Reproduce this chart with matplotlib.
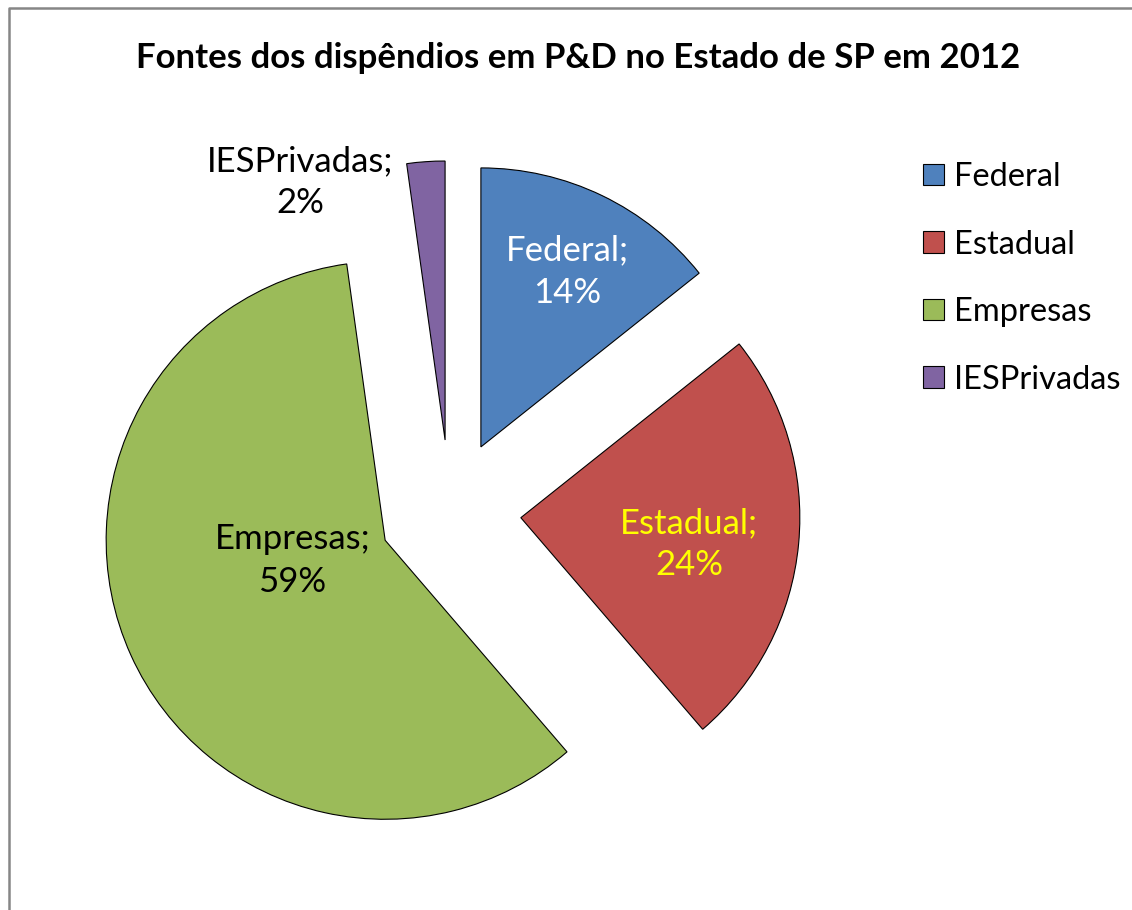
#Pizza explodida: fontes dos dispendios em P&D no Estado de SP em 2012
import numpy as np
import matplotlib.pyplot as plt
from matplotlib.lines import Line2D

plt.rcParams['font.family'] = ['Lato', 'DejaVu Sans']

#dados
fontes = ["Federal", "Estadual", "Empresas", "IESPrivadas"]
percentuais = [14.3, 24.4, 59.1, 2.2]
cores = ["#4F81BD", "#C0504D", "#9BBB59", "#8064A2"]
cores_rotulo = ["white", "#FFFF00", "black", "black"]

#posicao do rotulo em relacao ao vertice de cada fatia (fracao do raio, angulo de bussola)
pos_rotulo = [(0.70, 26.3), (0.61, 98.9), (0.34, 257.7), (1.06, 330.7)]

W, H = 1132, 910
R = 279.0          #raio em pixels
CX, CY = 450, 511  #centro da pizza em pixels (y a partir do topo)

fig = plt.figure(figsize=(W / 100, H / 100), dpi=100)
ax = fig.add_axes([0, 0, 1, 1])

fatias, _ = ax.pie(percentuais, colors=cores, startangle=90, counterclock=False,
                   explode=[0.255] * 4,
                   wedgeprops=dict(edgecolor="black", linewidth=0.8))

#escala: 1 unidade de dado = R pixels
ax.set_xlim(-CX / R, (W - CX) / R)
ax.set_ylim((CY - H) / R, CY / R)
ax.set_aspect("auto")
ax.axis("off")

for fatia, nome, v, cor, (r, a) in zip(fatias, fontes, percentuais, cores_rotulo, pos_rotulo):
    cx, cy = fatia.center
    ang = np.radians(a)
    ax.text(cx + r * np.sin(ang), cy + r * np.cos(ang), f"{nome};\n{v:.0f}%",
            ha="center", va="center", color=cor, fontsize=25, linespacing=1.4)

#titulo
fig.text(578 / W, 1 - 58 / H, "Fontes dos dispêndios em P&D no Estado de SP em 2012",
         ha="center", va="center", fontsize=25, fontweight="bold")

#legenda
fig.legend(fatias, fontes, loc="upper left", bbox_to_anchor=(923 / W, 1 - 162 / H),
           frameon=False, fontsize=23.5, handlelength=0.65, handleheight=0.65,
           handletextpad=0.3, labelspacing=1.15, borderpad=0, borderaxespad=0)

#moldura cinza do grafico
fig.add_artist(Line2D([9 / W, 9 / W, 1], [0, 1 - 8 / H, 1 - 8 / H],
                      transform=fig.transFigure, color="#868686", linewidth=1.8))

fig.savefig("out.png", dpi=100)
